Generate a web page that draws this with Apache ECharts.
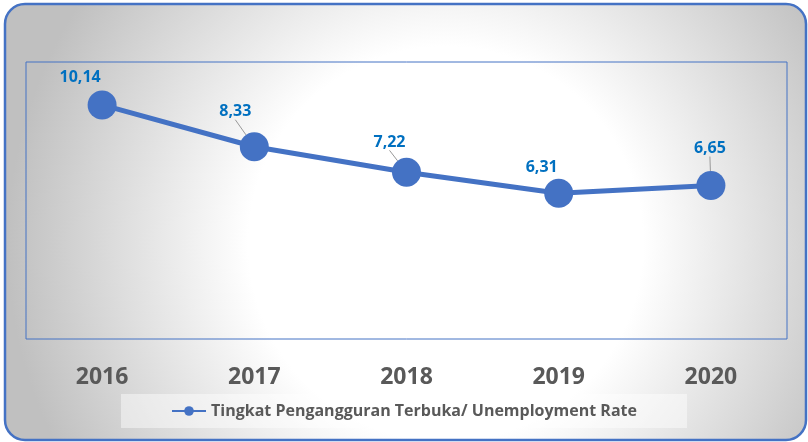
<!DOCTYPE html>
<html>
<head>
<meta charset="utf-8">
<script src="https://cdn.jsdelivr.net/npm/echarts@6/dist/echarts.min.js"></script>
<style>
  html, body { margin: 0; padding: 0; background: #fff; }
  #chart { width: 808px; height: 442px; }
</style>
</head>
<body>
<div id="chart"></div>
<script>
// data
const years = ['2016', '2017', '2018', '2019', '2020'];
const rates = [10.14, 8.33, 7.22, 6.31, 6.65];
const seriesName = 'Tingkat Pengangguran Terbuka/ Unemployment Rate';

// label shifts (px) away from each point, and which ones have a leader line
const labelShift = [[-22, -27], [-19, -35], [-17, -30], [-17, -26], [-1, -37]];
const leaderShown = [false, true, true, false, true];

const blue = '#4472c4';
const font = '"Open Sans", "Noto Sans", sans-serif';

const chart = echarts.init(document.getElementById('chart'));

const option = {
    animation: false,
    textStyle: { fontFamily: font },
    graphic: [
        {
            type: 'rect',
            z: -10,
            shape: { x: 5, y: 4, width: 801, height: 436, r: 20 },
            style: {
                fill: {
                    type: 'radial', x: 0.55, y: 0.55, r: 1.0,
                    colorStops: [
                        { offset: 0, color: '#ffffff' },
                        { offset: 0.45, color: '#ffffff' },
                        { offset: 1, color: '#c0c0c0' }
                    ]
                },
                stroke: blue,
                lineWidth: 2.5
            }
        }
    ],
    grid: {
        left: 26, right: 21, top: 62, bottom: 103,
        show: true,
        borderColor: blue,
        borderWidth: 1,
        backgroundColor: 'transparent'
    },
    legend: {
        left: 'center',
        top: 394,
        padding: [9, 50],
        backgroundColor: 'rgba(255,255,255,0.45)',
        itemWidth: 34,
        itemHeight: 12,
        textStyle: { fontFamily: font, fontSize: 16, fontWeight: 'bold', color: '#595959' },
        data: [seriesName]
    },
    xAxis: {
        type: 'category',
        data: years,
        axisLine: { show: false },
        axisTick: { show: false },
        axisLabel: {
            margin: 27,
            fontFamily: font,
            fontSize: 23,
            fontWeight: 'bold',
            color: '#595959'
        }
    },
    yAxis: {
        type: 'value',
        min: 0,
        max: 12,
        show: false,
        splitLine: { show: false }
    },
    series: [
        {
            name: seriesName,
            type: 'line',
            data: rates.map((v, i) => ({
                value: v,
                labelLine: { show: leaderShown[i] }
            })),
            symbol: 'circle',
            symbolSize: 29,
            itemStyle: { color: blue },
            lineStyle: { color: blue, width: 5 },
            label: {
                show: true,
                position: 'inside',
                fontFamily: font,
                fontSize: 16,
                fontWeight: 'bold',
                color: '#0070c0',
                formatter: p => String(p.value).replace('.', ',')
            },
            labelLine: {
                show: true,
                lineStyle: { color: '#999999', width: 1 }
            },
            labelLayout: p => ({
                dx: labelShift[p.dataIndex][0],
                dy: labelShift[p.dataIndex][1]
            })
        }
    ]
};

chart.setOption(option);
</script>
</body>
</html>
